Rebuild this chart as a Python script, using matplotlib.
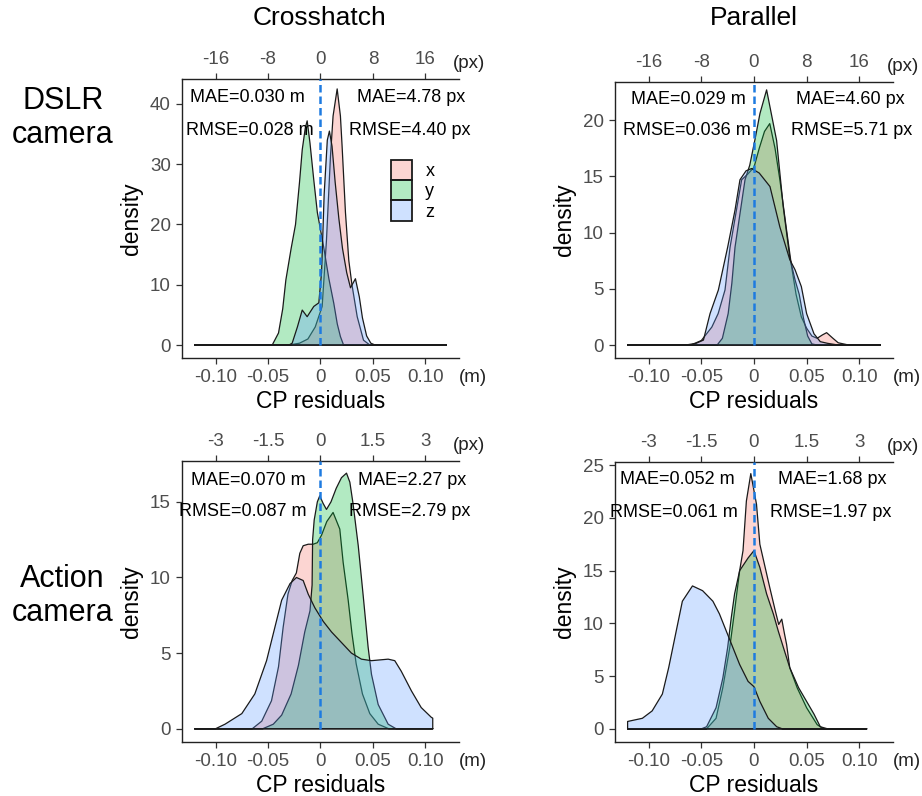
"""
CP residual density plots: DSLR / Action camera x Crosshatch / Parallel
"""
import matplotlib
matplotlib.use('Agg')
import matplotlib.pyplot as plt
from matplotlib.colors import to_rgba
from matplotlib.patches import Patch

plt.rcParams['font.family'] = ['Liberation Sans', 'DejaVu Sans']
plt.rcParams['axes.unicode_minus'] = False

# 시리즈 (ggplot 기본 색상)
series = ['x', 'y', 'z']
series_colors = ['#F8766D', '#00BA38', '#619CFF']

# ---- DSLR / Crosshatch : residual (m) vs density ----
dc_x_pos = [-0.12, -0.03, -0.02, -0.012, -0.005, 0.0016, 0.0057, 0.0095, 0.012, 0.0159, 0.019, 0.0206, 0.0238, 0.027, 0.030, 0.035, 0.041, 0.047, 0.12]
dc_x_den = [0, 0, 0.3, 1.0, 3.0, 6.4, 17.4, 31.3, 38, 42.5, 38, 33, 22, 14, 10, 4.7, 0.8, 0, 0]
dc_y_pos = [-0.12, -0.046, -0.040, -0.036, -0.033, -0.028, -0.0238, -0.020, -0.0174, -0.0145, -0.0127, -0.010, -0.0064, -0.003, 0.003, 0.008, 0.0127, 0.016, 0.019, 0.022, 0.12]
dc_y_den = [0, 0, 2, 6, 10.8, 16, 20, 27, 32.4, 36, 37.2, 33.5, 27.4, 22, 16.3, 11, 6.9, 3.5, 1.4, 0, 0]
dc_z_pos = [-0.12, -0.03, -0.027, -0.022, -0.0174, -0.0127, -0.0064, -0.0016, 0.001, 0.0035, 0.0065, 0.0085, 0.011, 0.014, 0.0175, 0.021, 0.025, 0.0286, 0.0333, 0.037, 0.040, 0.044, 0.048, 0.052, 0.12]
dc_z_den = [0, 0, 0.3, 3, 5.8, 4.7, 6.4, 7, 12, 25, 34, 35.5, 33, 27, 21, 16, 12, 9.5, 11, 8, 4.5, 1.5, 0.3, 0, 0]

# ---- DSLR / Parallel ----
dp_x_pos = [-0.12, -0.06, -0.05, -0.04, -0.034, -0.0275, -0.0227, -0.0117, -0.006, 0.0, 0.005, 0.010, 0.015, 0.020, 0.0246, 0.031, 0.0357, 0.040, 0.045, 0.050, 0.055, 0.060, 0.065, 0.069, 0.075, 0.080, 0.09, 0.12]
dp_x_den = [0, 0, 0.4, 1.6, 2.8, 4.9, 8.7, 14.7, 15.2, 15.8, 17.5, 19.0, 19.7, 17.5, 14.7, 10.2, 7.0, 4.5, 2.5, 1.5, 0.8, 0.6, 0.9, 1.1, 0.6, 0.2, 0, 0]
dp_y_pos = [-0.12, -0.035, -0.03, -0.0245, -0.021, -0.018, -0.0085, -0.004, 0.001, 0.0057, 0.012, 0.0215, 0.0278, 0.034, 0.039, 0.043, 0.047, 0.051, 0.055, 0.06, 0.12]
dp_y_den = [0, 0, 0.6, 2.8, 5.5, 8.7, 14.7, 16.0, 18.3, 20.6, 22.7, 18.2, 12.3, 7.8, 5.8, 4.5, 2.4, 0.8, 0.1, 0, 0]
dp_z_pos = [-0.12, -0.065, -0.055, -0.048, -0.0417, -0.0338, -0.025, -0.018, -0.0133, -0.0075, -0.0022, 0.005, 0.0152, 0.0246, 0.034, 0.039, 0.045, 0.050, 0.057, 0.063, 0.07, 0.08, 0.12]
dp_z_den = [0, 0, 0.15, 0.44, 2.8, 4.9, 8.7, 12.0, 14.7, 15.5, 15.7, 15.3, 14.1, 10.5, 7.6, 6.7, 5.2, 2.8, 1.0, 0.3, 0.15, 0, 0]

# ---- Action / Crosshatch ----
ac_x_pos = [-0.12, -0.065, -0.056, -0.0467, -0.040, -0.0356, -0.031, -0.027, -0.023, -0.0197, -0.0165, -0.0117, -0.007, -0.003, 0.001, 0.006, 0.012, 0.0184, 0.0216, 0.0264, 0.030, 0.034, 0.040, 0.047, 0.055, 0.065, 0.107]
ac_x_den = [0, 0, 0.5, 1.85, 4.1, 6.7, 8.9, 9.8, 10.3, 11.6, 12.1, 12.2, 12.2, 12.3, 12.8, 13.7, 14.3, 13.2, 11.0, 8.5, 6.3, 4.3, 2.3, 1.0, 0.3, 0, 0]
ac_y_pos = [-0.12, -0.055, -0.045, -0.037, -0.028, -0.021, -0.015, -0.010, -0.008, -0.0075, -0.006, -0.003, -0.0007, 0.0025, 0.0057, 0.010, 0.015, 0.020, 0.0248, 0.028, 0.031, 0.036, 0.0407, 0.0454, 0.0486, 0.055, 0.0645, 0.072, 0.107]
ac_y_den = [0, 0, 0.3, 0.9, 2.3, 4.2, 6.4, 7.8, 9.5, 12.5, 13.8, 15.0, 15.4, 14.9, 14.5, 15.0, 15.9, 16.6, 16.9, 16.3, 14.9, 12.1, 8.8, 5.4, 3.6, 1.6, 0.3, 0, 0]
ac_z_pos = [-0.12, -0.1, -0.091, -0.075, -0.0626, -0.0514, -0.0435, -0.037, -0.029, -0.0229, -0.0165, -0.0117, -0.0054, 0.0026, 0.0105, 0.020, 0.0295, 0.039, 0.0486, 0.0645, 0.0708, 0.077, 0.0867, 0.096, 0.1057, 0.107]
ac_z_den = [0, 0, 0.3, 1.0, 2.3, 4.5, 6.7, 8.5, 9.6, 10.0, 9.8, 8.9, 8.0, 7.1, 6.4, 5.7, 5.0, 4.6, 4.5, 4.6, 4.5, 3.8, 2.5, 1.4, 0.75, 0.7]

# ---- Action / Parallel ----
ap_x_pos = [-0.12, -0.045, -0.036, -0.0296, -0.023, -0.0184, -0.0136, -0.0104, -0.0072, -0.003, 0.0024, 0.0056, 0.015, 0.020, 0.0235, 0.0264, 0.029, 0.031, 0.034, 0.041, 0.050, 0.060, 0.066, 0.107]
ap_x_den = [0, 0, 1.0, 3.9, 7.7, 11.2, 15.0, 16.9, 21.6, 24.2, 21.3, 17.5, 13.4, 11.3, 9.9, 10.4, 9.0, 8.0, 5.8, 3.9, 2.0, 0.4, 0, 0]
ap_y_pos = [-0.12, -0.05, -0.045, -0.036, -0.0296, -0.025, -0.0216, -0.0184, -0.0136, -0.0056, 0.0, 0.0056, 0.012, 0.0184, 0.023, 0.028, 0.034, 0.0424, 0.050, 0.057, 0.063, 0.07, 0.107]
ap_y_den = [0, 0, 0.2, 2.0, 4.8, 7.7, 10.5, 12.8, 15.0, 16.2, 16.9, 15.3, 12.8, 10.9, 9.3, 7.7, 5.8, 3.9, 2.6, 1.4, 0.2, 0, 0]
ap_z_pos = [-0.12, -0.106, -0.0967, -0.087, -0.081, -0.0744, -0.068, -0.0584, -0.0488, -0.039, -0.0328, -0.0264, -0.020, -0.0136, -0.0056, 0.0, 0.0056, 0.0136, 0.0216, 0.027, 0.107]
ap_z_den = [0.7, 1.0, 1.7, 3.3, 5.8, 9.0, 12.1, 13.55, 13.1, 12.1, 10.9, 9.3, 7.7, 6.1, 4.5, 4.0, 2.6, 1.0, 0.2, 0, 0]

# 오차 통계 (패널 순서: DSLR-Cross, DSLR-Par, Action-Cross, Action-Par)
mae_m = ['0.030', '0.029', '0.070', '0.052']
rmse_m = ['0.028', '0.036', '0.087', '0.061']
mae_px = ['4.78', '4.60', '2.27', '1.68']
rmse_px = ['4.40', '5.71', '2.79', '1.97']

# 축 눈금
m_ticks = [-0.10, -0.05, 0, 0.05, 0.10]
m_tick_labels = ['-0.10', '-0.05', '0', '0.05', '0.10']
dslr_px_ticks = [-16, -8, 0, 8, 16]
dslr_px_labels = ['-16', '-8', '0', '8', '16']
action_px_ticks = [-3, -1.5, 0, 1.5, 3]
action_px_labels = ['-3', '-1.5', '0', '1.5', '3']
dslr_px_per_m = 160
action_px_per_m = 30

col_titles = ['Crosshatch', 'Parallel']
row_titles = ['DSLR\ncamera', 'Action\ncamera']

TICK_COLOR = '#4D4D4D'
EDGE = '#1a1a1a'
TICKLEN, TICKPAD = 4, 4


def draw_panel(fig, rect, curves, ylim, yticks, px_scale, px_ticks, px_labels,
               idx, text_pos, legend=False):
    ax = fig.add_axes(rect)
    for (pos, den), color in zip(curves, series_colors):
        xs = list(pos) + [pos[-1], pos[0]]
        ys = list(den) + [0, 0]
        ax.fill(xs, ys, facecolor=to_rgba(color, 0.3), edgecolor=EDGE, lw=0.9,
                joinstyle='round')

    ax.set_xlim(-0.132, 0.132)
    ax.set_ylim(*ylim)
    ax.set_xticks(m_ticks, labels=m_tick_labels)
    ax.set_yticks(yticks, labels=[str(t) for t in yticks])

    # 0 기준선 (파란 점선)
    ax.axvline(0, ymin=-ylim[0] / (ylim[1] - ylim[0]), ymax=1, color='#1E7BE0',
               lw=1.8, ls=(0, (3, 1.6)), zorder=5)

    for side in ['right', 'top']:
        ax.spines[side].set_visible(False)
    for side in ['left', 'bottom']:
        ax.spines[side].set_linewidth(1.0)
        ax.spines[side].set_color('#222222')
    ax.tick_params(direction='out', length=TICKLEN, width=0.9, color='#333333',
                   labelsize=13.5, labelcolor=TICK_COLOR, pad=TICKPAD)

    # 상단 픽셀 축
    sec = ax.secondary_xaxis('top', functions=(lambda v, s=px_scale: v * s,
                                               lambda v, s=px_scale: v / s))
    sec.set_xticks(px_ticks, labels=px_labels)
    sec.tick_params(direction='out', length=TICKLEN, width=0.9, color='#333333',
                    labelsize=13.5, labelcolor=TICK_COLOR, pad=TICKPAD)
    sec.spines['top'].set_linewidth(1.0)
    sec.spines['top'].set_color('#222222')

    off = -(TICKLEN + TICKPAD)
    ax.annotate('(m)', xy=(0.145, 0), xycoords=('data', 'axes fraction'),
                xytext=(0, off), textcoords='offset points', ha='center', va='top',
                fontsize=13.5, color='#222222', annotation_clip=False)
    ax.annotate('(px)', xy=(0.142, 1), xycoords=('data', 'axes fraction'),
                xytext=(0, -off), textcoords='offset points', ha='center', va='baseline',
                fontsize=13.5, color='#222222', annotation_clip=False)

    ax.set_xlabel('CP residuals', fontsize=16.5, labelpad=3)
    ax.set_ylabel('density', fontsize=16.5, labelpad=5)

    (lx1, ly1), (lx2, ly2), (rx1, ry1), (rx2, ry2) = text_pos
    kw = dict(transform=ax.transAxes, ha='center', va='center', fontsize=13, zorder=6)
    ax.text(lx1, ly1, f'MAE={mae_m[idx]} m', **kw)
    ax.text(lx2, ly2, f'RMSE={rmse_m[idx]} m', **kw)
    ax.text(rx1, ry1, f'MAE={mae_px[idx]} px', **kw)
    ax.text(rx2, ry2, f'RMSE={rmse_px[idx]} px', **kw)

    if legend:
        handles = [Patch(facecolor=to_rgba(c, 0.3), edgecolor=EDGE, lw=1.3)
                   for c in series_colors]
        ax.legend(handles, series, loc='upper left', bbox_to_anchor=(0.755, 0.71),
                  frameon=False, borderpad=0, borderaxespad=0, labelspacing=0.0,
                  handlelength=1.15, handleheight=1.35, handletextpad=0.75, fontsize=13)
    return ax


fig = plt.figure(figsize=(9.22, 7.96), dpi=100)

draw_panel(fig, [0.1974, 0.5503, 0.3004, 0.3505],
           [(dc_x_pos, dc_x_den), (dc_y_pos, dc_y_den), (dc_z_pos, dc_z_den)],
           (-2.15, 44.15), [0, 10, 20, 30, 40], dslr_px_per_m, dslr_px_ticks, dslr_px_labels,
           0, [(0.235, 0.935), (0.245, 0.814), (0.827, 0.935), (0.824, 0.814)], legend=True)
draw_panel(fig, [0.667, 0.5503, 0.3015, 0.3467],
           [(dp_x_pos, dp_x_den), (dp_y_pos, dp_y_den), (dp_z_pos, dp_z_den)],
           (-1.15, 23.4), [0, 5, 10, 15, 20], dslr_px_per_m, dslr_px_ticks, dslr_px_labels,
           1, [(0.263, 0.935), (0.26, 0.826), (0.845, 0.935), (0.85, 0.826)])
draw_panel(fig, [0.1974, 0.0678, 0.3004, 0.353],
           [(ac_x_pos, ac_x_den), (ac_y_pos, ac_y_den), (ac_z_pos, ac_z_den)],
           (-0.88, 17.7), [0, 5, 10, 15], action_px_per_m, action_px_ticks, action_px_labels,
           2, [(0.238, 0.932), (0.22, 0.819), (0.83, 0.932), (0.823, 0.819)])
draw_panel(fig, [0.667, 0.0678, 0.3015, 0.3518],
           [(ap_x_pos, ap_x_den), (ap_y_pos, ap_y_den), (ap_z_pos, ap_z_den)],
           (-1.25, 25.3), [0, 5, 10, 15, 20, 25], action_px_per_m, action_px_ticks, action_px_labels,
           3, [(0.225, 0.936), (0.212, 0.818), (0.78, 0.936), (0.777, 0.818)])

# 열/행 제목
fig.text(0.347, 0.977, col_titles[0], ha='center', va='center', fontsize=19)
fig.text(0.818, 0.977, col_titles[1], ha='center', va='center', fontsize=19)
fig.text(0.068, 0.852, row_titles[0], ha='center', va='center', fontsize=22, linespacing=1.15)
fig.text(0.068, 0.251, row_titles[1], ha='center', va='center', fontsize=22, linespacing=1.15)

fig.savefig('out.png', dpi=100)
